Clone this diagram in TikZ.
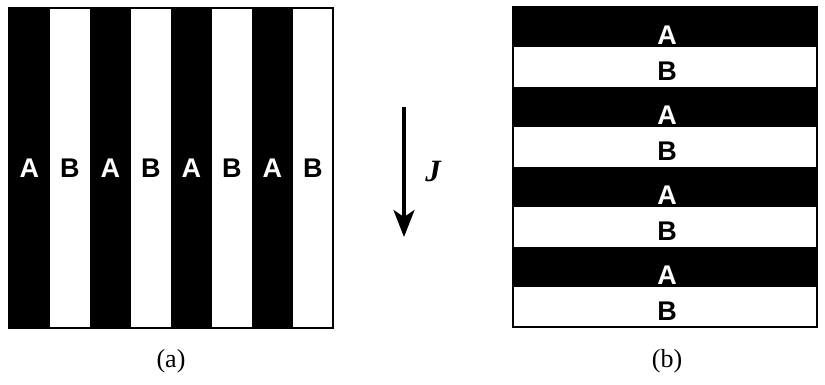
\documentclass[tikz,border=0pt]{standalone}
\usepackage{fontspec}
\setmainfont{Liberation Serif}
\newfontfamily\phasefont{Liberation Sans}
\usetikzlibrary{arrows.meta}

\begin{document}
\begin{tikzpicture}[x=1pt, y=-1pt,
    phase/.style={font=\phasefont\bfseries\fontsize{27}{27}\selectfont, inner sep=0pt},
    capt/.style={font=\fontsize{26}{26}\selectfont, inner sep=0pt},
    frame/.style={draw, line width=1.4pt},
    arr/.style={-{Stealth[length=27pt, width=21pt, inset=7pt]}, line width=3.5pt}
  ]
  \useasboundingbox (0,0) rectangle (825,384);

  % (a) vertical lamellae
  \foreach \i in {0,2,4,6} {
    \fill ({9+40.5*\i},8) rectangle ({9+40.5*(\i+1)},328);
    \node[phase, text=white] (a\i) at ({29.25+40.5*\i},168) {A};
  }
  \foreach \i in {1,3,5,7}
    \node[phase] (a\i) at ({29.25+40.5*\i},168) {B};
  \draw[frame] (9,8) rectangle (333,328);

  % current direction
  \coordinate (jtop) at (404,107);
  \coordinate (jtip) at (404,237);
  \draw[arr] (jtop) -- (jtip);
  \node[font=\bfseries\itshape\fontsize{31}{31}\selectfont, inner sep=0pt] (jlab) at (433,171) {J};

  % (b) horizontal lamellae
  \foreach \j in {0,2,4,6} {
    \fill (513,{7+40*\j}) rectangle (817,{7+40*(\j+1)});
    \node[phase, text=white] (b\j) at (667,{35+40*\j}) {A};
  }
  \foreach \j in {1,3,5,7}
    \node[phase] (b\j) at (667,{31+40*\j}) {B};
  \draw[frame] (513,7) rectangle (817,327);

  \node[capt] (capa) at (171,361) {(a)};
  \node[capt] (capb) at (667,361) {(b)};
\end{tikzpicture}
\end{document}
